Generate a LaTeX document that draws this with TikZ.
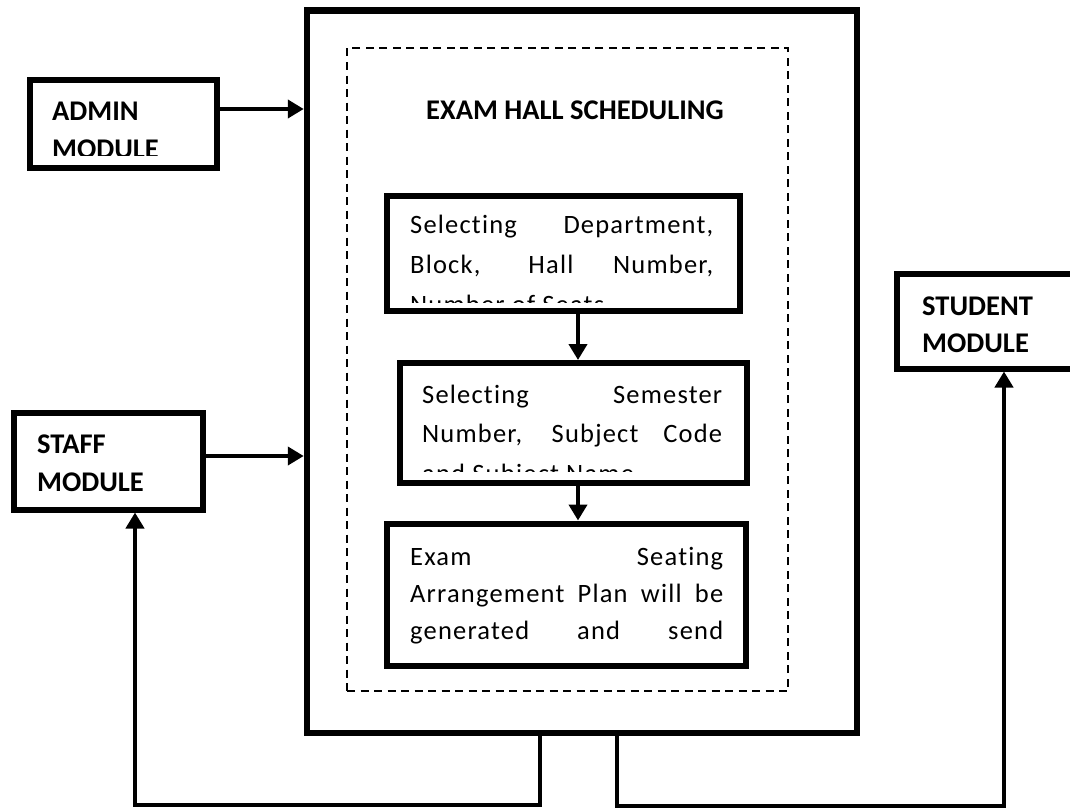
\documentclass[tikz,border=0pt]{standalone}
\usepackage{fontspec}
\setmainfont{Carlito}
\newfontfamily\bodyfam[LetterSpace=4.5,Ligatures=NoCommon]{Carlito}
\usetikzlibrary{arrows.meta}
\newcommand{\bodyfont}{\bodyfam\fontsize{26.5}{30}\selectfont}
\newcommand{\labfont}{\fontsize{28.5}{32}\selectfont\bfseries}
\newcommand{\jline}[2]{\makebox[#1][s]{#2}}
\begin{document}
\begin{tikzpicture}[x=1pt,y=-1pt,
  bigbox/.style={draw, line width=6.5pt, inner sep=0pt, rectangle},
  procbox/.style={draw, line width=6pt, inner sep=0pt, rectangle},
  modbox/.style={draw, line width=6pt, inner sep=0pt, rectangle},
  dashbox/.style={draw, line width=2pt, dash pattern=on 8pt off 5.5pt, inner sep=0pt, rectangle},
  conn/.style={line width=4pt, line join=miter, -{Triangle[length=16pt,width=18pt]}},
  txt/.style={anchor=base west, inner sep=0pt, font=\bodyfont},
  lab/.style={anchor=base west, inner sep=0pt, font=\labfont}]
\useasboundingbox (0,0) rectangle (1070,811);

% main boxes
\node[bigbox, minimum width=550pt, minimum height=722.5pt] (outer) at (582,371.75) {};
\node[dashbox, minimum width=441pt, minimum height=643pt] (dash) at (567.5,369.5) {};
\node[anchor=base, inner sep=0pt, font=\labfont] (title) at (575,119) {EXAM HALL SCHEDULING};

\node[procbox, minimum width=353.5pt, minimum height=115.5pt] (box1) at (563.25,253.25) {};
\node[procbox, minimum width=347pt, minimum height=120pt] (box2) at (573,423) {};
\node[procbox, minimum width=359.5pt, minimum height=142pt] (box3) at (566.25,594.5) {};

\node[modbox, minimum width=187pt, minimum height=88.5pt] (admin) at (123,123.75) {};
\node[modbox, minimum width=189.5pt, minimum height=96.5pt] (staff) at (108.25,461.25) {};
\node[modbox, minimum width=193.5pt, minimum height=94.5pt] (student) at (993.25,321.25) {};

% texts in process boxes
\begin{scope}
\clip (390,199) rectangle (737,302);
\node[txt] (t11) at (410,233) {\jline{303pt}{Selecting Department,}};
\node[txt] (t12) at (410,273) {\jline{303pt}{Block, Hall Number,}};
\node[txt] (t13) at (410,313) {Number of Seats};
\end{scope}
\begin{scope}
\clip (403,367) rectangle (743,471);
\node[txt] (t21) at (422,403) {\jline{300pt}{Selecting Semester}};
\node[txt] (t22) at (422,442) {\jline{300pt}{Number, Subject Code}};
\node[txt] (t23) at (422,482) {and Subject Name};
\end{scope}
\begin{scope}
\clip (390,527) rectangle (743,663);
\node[txt] (t31) at (410,565) {\jline{313pt}{Exam Seating}};
\node[txt] (t32) at (410,602) {\jline{313pt}{Arrangement Plan will be}};
\node[txt] (t33) at (410,639) {\jline{313pt}{generated and send}};
\end{scope}

% module labels
\begin{scope}
\clip (33,83) rectangle (213,155);
\node[lab] (a1) at (52,120) {ADMIN};
\node[lab] (a2) at (52,158) {MODULE};
\end{scope}
\node[lab] (s1) at (37,453) {STAFF};
\node[lab] (s2) at (37,491) {MODULE};
\node[lab] (u1) at (922,315) {STUDENT};
\node[lab] (u2) at (922,352) {MODULE};

% connectors
\coordinate (ya) at (0,109);
\coordinate (ys) at (0,456);
\draw[conn] (admin.east |- ya) -- (outer.west |- ya);
\draw[conn] (staff.east |- ys) -- (outer.west |- ys);
\draw[conn] ([xshift=14.75pt]box1.south) -- ([xshift=14.75pt]box1.south |- box2.north);
\draw[conn] ([xshift=5pt]box2.south) -- ([xshift=5pt]box2.south |- box3.north);

\coordinate (lb) at (540,805);
\coordinate (lc) at (135,805);
\coordinate (rb) at (617,806);
\coordinate (rc) at (1004,806);
\draw[conn] (outer.south -| lb) -- (lb) -- (lc) -- (staff.south -| lc);
\draw[conn] (outer.south -| rb) -- (rb) -- (rc) -- (student.south -| rc);
\end{tikzpicture}
\end{document}
